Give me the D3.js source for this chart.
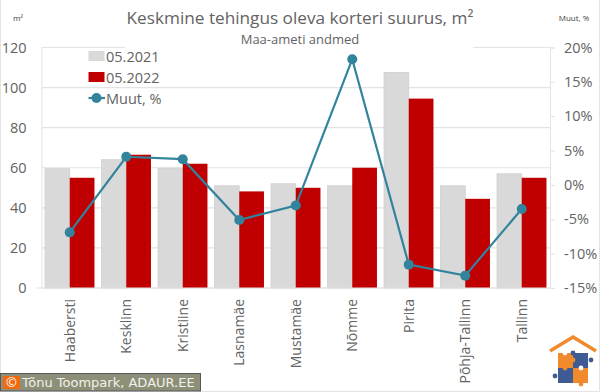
<!DOCTYPE html>
<html>
<head>
<meta charset="utf-8">
<script src="https://cdn.jsdelivr.net/npm/d3@7"></script>
<style>
  html, body { margin: 0; padding: 0; background: #fff; }
  text { font-family: "Open Sans", sans-serif; }
</style>
</head>
<body>
<div id="chart"></div>
<script>
const categories = ["Haabersti", "Kesklinn", "Kristiine", "Lasnamäe", "Mustamäe", "Nõmme", "Pirita", "Põhja-Tallinn", "Tallinn"];
const values2021 = [59.5, 64, 59.8, 51, 52, 51, 107.5, 51, 57];
const values2022 = [55, 66.5, 62, 48.2, 50, 60, 94.5, 44.5, 55];
const change = [-6.9, 4.1, 3.75, -5.1, -3.0, 18.3, -11.6, -13.2, -3.5];
const leftTicks = [0, 20, 40, 60, 80, 100, 120];
const rightTicks = [-15, -10, -5, 0, 5, 10, 15, 20];

const width = 600, height = 392;
const margin = { top: 47.5, right: 50, bottom: 104, left: 41.5 };
const textColor = "#636363";
const lineColor = "#31849b";

const svg = d3.select("#chart").append("svg")
  .attr("width", width)
  .attr("height", height)
  .style("display", "block");

// outer frame, only visible on the right and at the bottom
svg.append("rect").attr("width", width).attr("height", height).attr("fill", "#fff");
svg.append("path").attr("d", `M0.5,0V${height - 0.5}H${width - 0.5}V0`)
  .attr("fill", "none").attr("stroke", "#e4e4e4");

const x = d3.scaleBand().domain(categories)
  .range([margin.left, width - margin.right]).paddingInner(0.125).paddingOuter(0.0625);
const xInner = d3.scaleBand().domain([0, 1]).range([0, x.bandwidth()]);
const y = d3.scaleLinear().domain([0, 120]).range([height - margin.bottom, margin.top]);
const y2 = d3.scaleLinear().domain([-15, 20]).range([height - margin.bottom, margin.top]);

// gridlines
svg.append("g").selectAll("line").data(leftTicks).join("line")
  .attr("x1", margin.left).attr("x2", width - margin.right)
  .attr("y1", d => y(d)).attr("y2", d => y(d))
  .attr("stroke", "#e3e3e3").attr("stroke-width", 1.2);

// left axis
const axisL = svg.append("g")
  .attr("transform", `translate(${margin.left},0)`)
  .call(d3.axisLeft(y).tickValues(leftTicks).tickSize(0).tickPadding(15));
axisL.select(".domain").attr("stroke", "#e3e3e3");
axisL.selectAll("text").attr("fill", textColor).style("font-size", "14.5px");

// right axis
const axisR = svg.append("g")
  .attr("transform", `translate(${width - margin.right},0)`)
  .call(d3.axisRight(y2).tickValues(rightTicks).tickFormat(d => d + "%").tickSize(5).tickPadding(9));
axisR.select(".domain").attr("stroke", "#e3e3e3");
axisR.selectAll("line").attr("stroke", "#e3e3e3");
axisR.selectAll("text").attr("fill", textColor).style("font-size", "14.5px");

// bars
const bars = svg.append("g");
bars.selectAll(".b21").data(values2021).join("rect")
  .attr("class", "b21")
  .attr("x", (d, i) => x(categories[i]) + xInner(0))
  .attr("y", d => y(d))
  .attr("width", xInner.bandwidth())
  .attr("height", d => y(0) - y(d))
  .attr("fill", "#d9d9d9").attr("stroke", "#cfcfcf").attr("stroke-width", 0.8);
bars.selectAll(".b22").data(values2022).join("rect")
  .attr("class", "b22")
  .attr("x", (d, i) => x(categories[i]) + xInner(1))
  .attr("y", d => y(d))
  .attr("width", xInner.bandwidth())
  .attr("height", d => y(0) - y(d))
  .attr("fill", "#c00000");

svg.append("line")
  .attr("x1", margin.left - 5).attr("x2", width - margin.right)
  .attr("y1", y(0)).attr("y2", y(0))
  .attr("stroke", "#e3e3e3").attr("stroke-width", 1.2);

// change line
const centre = c => x(c) + x.bandwidth() / 2;
const line = d3.line().x((d, i) => centre(categories[i])).y(d => y2(d));
svg.append("path").datum(change)
  .attr("d", line)
  .attr("fill", "none").attr("stroke", lineColor).attr("stroke-width", 2.2);
svg.append("g").selectAll("circle").data(change).join("circle")
  .attr("cx", (d, i) => centre(categories[i]))
  .attr("cy", d => y2(d))
  .attr("r", 5)
  .attr("fill", lineColor);

// category labels
svg.append("g").selectAll("text").data(categories).join("text")
  .attr("transform", d => `translate(${centre(d) + 5},299) rotate(-90)`)
  .attr("text-anchor", "end")
  .attr("fill", textColor)
  .style("font-size", "14px")
  .text(d => d);

// white patch behind the title hides the top gridline
svg.append("rect").attr("x", 125).attr("y", 44).attr("width", 348).attr("height", 8).attr("fill", "#fff");

// titles
svg.append("text").attr("x", 300).attr("y", 24).attr("text-anchor", "middle")
  .attr("fill", textColor).style("font-size", "17.2px")
  .text("Keskmine tehingus oleva korteri suurus, m²");
svg.append("text").attr("x", 300).attr("y", 44).attr("text-anchor", "middle")
  .attr("fill", textColor).style("font-size", "13px")
  .text("Maa-ameti andmed");
svg.append("text").attr("x", 18).attr("y", 21).attr("text-anchor", "middle")
  .attr("fill", "#404040").style("font-size", "8px").text("m²");
svg.append("text").attr("x", 574).attr("y", 21).attr("text-anchor", "middle")
  .attr("fill", "#404040").style("font-size", "8px").text("Muut, %");

// legend
const legend = svg.append("g");
[["05.2021", "#d9d9d9"], ["05.2022", "#c00000"]].forEach((d, i) => {
  legend.append("rect").attr("x", 88.5).attr("y", 51 + i * 21).attr("width", 16).attr("height", 10).attr("fill", d[1]);
  legend.append("text").attr("x", 106).attr("y", 61.5 + i * 21).attr("fill", textColor)
    .style("font-size", "14.5px").text(d[0]);
});
legend.append("line").attr("x1", 88.5).attr("x2", 105).attr("y1", 98).attr("y2", 98)
  .attr("stroke", lineColor).attr("stroke-width", 2.2);
legend.append("circle").attr("cx", 96.5).attr("cy", 98).attr("r", 5).attr("fill", lineColor);
legend.append("text").attr("x", 106).attr("y", 103.5).attr("fill", textColor)
  .style("font-size", "14.5px").text("Muut, %");

// copyright strip
const strip = svg.append("g");
strip.append("rect").attr("x", 0.5).attr("y", 373.5).attr("width", 200).attr("height", 17.5)
  .attr("fill", "#8d8f78").attr("stroke", "#55575a");
strip.append("rect").attr("x", 3).attr("y", 376).attr("width", 17).attr("height", 13).attr("fill", "#f26a10");
strip.append("text").attr("x", 11.5).attr("y", 387).attr("text-anchor", "middle")
  .attr("fill", "#fff").style("font-size", "13px").text("©");
strip.append("text").attr("x", 22).attr("y", 387).attr("fill", "#f2f2ea")
  .style("font-family", "'DejaVu Sans', sans-serif").style("font-size", "13px").text("Tõnu Toompark, ADAUR.EE");

// house and puzzle logo
const logo = svg.append("g");
logo.append("path").attr("d", "M550,351L573,337L596,351").attr("fill", "none")
  .attr("stroke", "#f08a2c").attr("stroke-width", 3.5);
[[558, 353, "#f08a2c"], [573, 353, "#3f5b94"], [558, 368, "#3f5b94"], [573, 368, "#f08a2c"]].forEach(d => {
  logo.append("rect").attr("x", d[0]).attr("y", d[1]).attr("width", 15).attr("height", 15).attr("fill", d[2]);
});
[[573, 360, "#f08a2c"], [565, 353, "#fff"], [591, 360, "#3f5b94"], [555, 376, "#3f5b94"], [565, 368, "#f08a2c"],
 [581, 368, "#fff"], [581, 384, "#f08a2c"], [573, 353, "#3f5b94"]].forEach(d => {
  logo.append("circle").attr("cx", d[0]).attr("cy", d[1]).attr("r", 2.4).attr("fill", d[2]);
});
</script>
</body>
</html>
